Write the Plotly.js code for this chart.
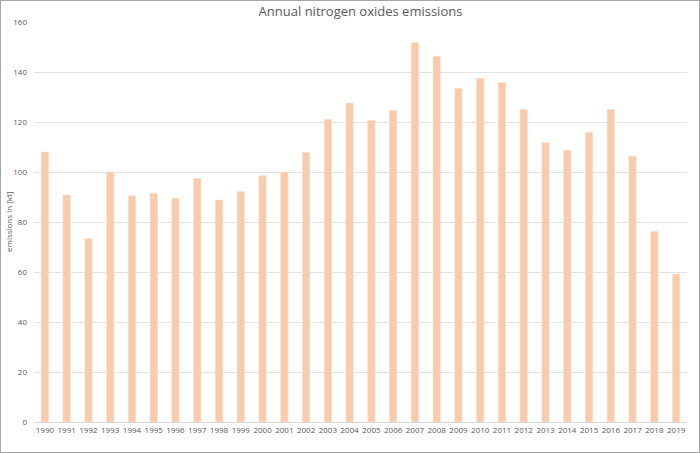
<!DOCTYPE html>
<html>
<head>
<meta charset="utf-8">
<script src="https://cdn.plot.ly/plotly-3.0.1.min.js"></script>
<style>
  html, body { margin: 0; padding: 0; background: #fff; }
  #wrap { position: relative; width: 700px; height: 453px; }
  #chart { width: 700px; height: 453px; }
  #frame { position: absolute; left: 0; top: 0; width: 700px; height: 453px; box-sizing: border-box; border: 1px solid #a6a6a6; pointer-events: none; }
</style>
</head>
<body>
<div id="wrap"><div id="chart"></div><div id="frame"></div></div>
<script>
const years = ["1990","1991","1992","1993","1994","1995","1996","1997","1998","1999","2000","2001","2002","2003","2004","2005","2006","2007","2008","2009","2010","2011","2012","2013","2014","2015","2016","2017","2018","2019"];
const emissions = [108, 90.8, 73.3, 100, 90.5, 91.5, 89.5, 97.4, 88.8, 92.2, 98.5, 100, 107.8, 121.1, 127.6, 120.6, 124.6, 151.8, 146.3, 133.5, 137.5, 135.8, 125.1, 111.7, 108.7, 115.9, 125, 106.3, 76.3, 59.2];
const yTicks = [0, 20, 40, 60, 80, 100, 120, 140, 160];

const trace = {
  type: 'bar',
  x: years,
  y: emissions,
  marker: { color: '#F8CBAD', line: { color: '#FBE0CF', width: 0.6 } },
  hoverinfo: 'x+y'
};

const layout = {
  width: 700,
  height: 453,
  margin: { l: 34, r: 13, t: 22, b: 31 },
  paper_bgcolor: '#ffffff',
  plot_bgcolor: '#ffffff',
  bargap: 0.66,
  showlegend: false,
  font: { family: 'Open Sans, Liberation Sans, sans-serif', color: '#595959' },
  title: {
    text: 'Annual nitrogen oxides emissions',
    font: { size: 13, color: '#595959', family: 'Open Sans, sans-serif' },
    x: 0.5, xanchor: 'center', xref: 'paper',
    y: 1 - 11/453, yanchor: 'middle', yref: 'container'
  },
  xaxis: {
    type: 'category',
    tickfont: { size: 8, color: '#595959' },
    showgrid: false,
    showline: true,
    linecolor: '#d9d9d9',
    linewidth: 1,
    ticks: '',
    tickangle: 0,
    fixedrange: true
  },
  yaxis: {
    range: [0, 160],
    tickvals: yTicks,
    ticktext: yTicks.map(String),
    tickfont: { size: 8, color: '#595959' },
    showgrid: true,
    gridcolor: '#e3e3e3',
    gridwidth: 1,
    zeroline: false,
    showline: false,
    ticks: '',
    ticklabelstandoff: 6,
    fixedrange: true
  },
  annotations: [{
    text: 'emissions in [kt]',
    xref: 'paper', yref: 'paper',
    x: (8 - 34) / 653, y: 0.5,
    xanchor: 'center', yanchor: 'middle',
    textangle: -90,
    showarrow: false,
    font: { size: 8, color: '#595959' }
  }]
};

Plotly.newPlot('chart', [trace], layout, { displayModeBar: false, staticPlot: true });
</script>
</body>
</html>
